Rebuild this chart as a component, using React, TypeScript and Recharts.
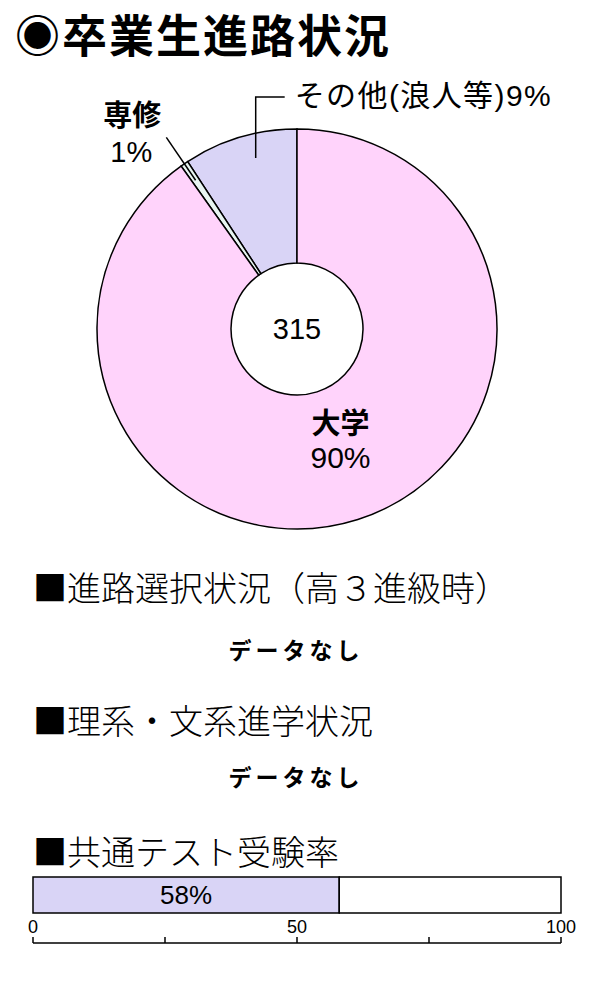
import { PieChart, Pie, Cell, BarChart, Bar, XAxis, YAxis, LabelList } from 'recharts';

// 卒業生進路状況
const pathNames = ['その他(浪人等)', '専修', '大学'];
const pathCounts = [29, 2, 284];
const pathPercentLabels = ['9%', '1%', '90%'];
const totalGraduates = 315;

// 共通テスト受験率
const examNames = ['共通テスト'];
const examRates = [58];
const examTicks = [0, 25, 50, 75, 100];

const noDataText = 'データなし';

const pieColors = ['#D9D4F6', '#E8F5F1', '#FFD3FB'];
const barColor = '#D9D4F6';
const JP = "'Noto Sans CJK JP', sans-serif";
const MIXED = "'Liberation Sans', 'Noto Sans CJK JP', sans-serif";

const pieData = pathNames.map((name, i) => ({ name, value: pathCounts[i], pct: pathPercentLabels[i] }));
const examData = examNames.map((name, i) => ({ name, rate: examRates[i], rest: 100 - examRates[i] }));

const RAD = Math.PI / 180;

function renderPieLabel(props: any) {
  const { cx, cy, midAngle, innerRadius, outerRadius, index } = props;
  const at = (r: number, a: number) => ({
    x: cx + r * Math.cos(-a * RAD),
    y: cy + r * Math.sin(-a * RAD),
  });
  const item = pieData[index];

  if (index === 0) {
    const p = at(outerRadius - 24, midAngle - 3);
    const topY = cy - outerRadius - 32;
    return (
      <g key="l0">
        <polyline
          points={`${p.x},${p.y} ${p.x},${topY} ${p.x + 29},${topY}`}
          fill="none"
          stroke="#000"
          strokeWidth={1.5}
        />
        <text x={p.x + 39} y={topY + 9} fontSize={30} fontFamily={MIXED} fill="#000" letterSpacing={1.4}>
          {item.name}
          {item.pct}
        </text>
        {/* total in the hole */}
        <text x={cx} y={cy + 10} textAnchor="middle" fontSize={29} fontFamily={MIXED} fill="#000">
          {totalGraduates}
        </text>
      </g>
    );
  }
  if (index === 1) {
    const a = at(outerRadius - 20, midAngle);
    const b = at(outerRadius + 32, midAngle);
    return (
      <g key="l1">
        <line x1={a.x} y1={a.y} x2={b.x} y2={b.y} stroke="#000" strokeWidth={1.5} />
        <text x={b.x - 34} y={b.y - 11} textAnchor="middle" fontSize={29} fontWeight="bold" fontFamily={JP} fill="#000">
          {item.name}
        </text>
        <text x={b.x - 35} y={b.y + 25} textAnchor="middle" fontSize={29} fontFamily={MIXED} fill="#000">
          {item.pct}
        </text>
      </g>
    );
  }
  const c = at((innerRadius + outerRadius) / 2 - 13, midAngle);
  return (
    <g key="l2">
      <text x={c.x + 7} y={c.y - 9} textAnchor="middle" fontSize={29} fontWeight="bold" fontFamily={JP} fill="#000">
        {item.name}
      </text>
      <text x={c.x + 7} y={c.y + 25} textAnchor="middle" fontSize={30} fontFamily={MIXED} fill="#000">
        {item.pct}
      </text>
    </g>
  );
}

export default function App() {
  return (
    <div style={{ position: 'absolute', left: 0, top: 0, width: 600, height: 1000, background: '#fff' }}>
      <div
        style={{
          position: 'absolute',
          left: 15,
          top: 11,
          fontFamily: JP,
          fontSize: 45,
          lineHeight: '45px',
          letterSpacing: 2,
          fontWeight: 'bold',
          whiteSpace: 'nowrap',
          color: '#000',
        }}
      >
        ◉卒業生進路状況
      </div>

      <div style={{ position: 'absolute', left: 0, top: 62 }}>
        <PieChart width={600} height={498} margin={{ top: 0, right: 0, bottom: 0, left: 0 }}>
          <Pie
            data={pieData}
            dataKey="value"
            nameKey="name"
            cx={297}
            cy={267}
            innerRadius={66}
            outerRadius={200}
            startAngle={90}
            endAngle={450}
            stroke="#000"
            strokeWidth={1.5}
            label={renderPieLabel}
            labelLine={false}
            isAnimationActive={false}
          >
            {pieData.map((d, i) => (
              <Cell key={d.name} fill={pieColors[i]} />
            ))}
          </Pie>
        </PieChart>
      </div>

      <div style={{ position: 'absolute', left: 0, top: 870 }}>
        <BarChart
          width={600}
          height={82}
          data={examData}
          layout="vertical"
          barCategoryGap={0}
          margin={{ top: 7, right: 39, bottom: 9, left: 33 }}
        >
          <XAxis
            type="number"
            domain={[0, 100]}
            ticks={examTicks}
            interval={0}
            orientation="bottom"
            mirror
            height={30}
            tickSize={6}
            tickMargin={4}
            axisLine={{ stroke: '#000', strokeWidth: 1.5 }}
            tickLine={{ stroke: '#000', strokeWidth: 1.5 }}
            tick={{ fill: '#000', fontSize: 18, fontFamily: "'Liberation Sans Narrow', 'Liberation Sans', sans-serif" }}
            tickFormatter={(v: number) => (v % 50 === 0 ? String(v) : '')}
          />
          <YAxis type="category" dataKey="name" hide padding={{ top: 0, bottom: 30 }} />
          <Bar dataKey="rate" stackId="a" fill={barColor} stroke="#000" strokeWidth={1.5} isAnimationActive={false}>
            <LabelList
              dataKey="rate"
              position="center"
              formatter={(v: any) => `${v}%`}
              fill="#000"
              fontSize={26}
              fontFamily={MIXED}
            />
          </Bar>
          <Bar dataKey="rest" stackId="a" fill="#fff" stroke="#000" strokeWidth={1.5} isAnimationActive={false} />
        </BarChart>
      </div>

      <svg width={600} height={1000} style={{ position: 'absolute', left: 0, top: 0, pointerEvents: 'none' }}>
        <text x={33} y={601} fontSize={34} fontWeight={300} fontFamily={JP} fill="#000">
          ■進路選択状況（高３進級時）
        </text>
        <text x={296} y={659} textAnchor="middle" fontSize={23} fontWeight="bold" fontFamily={JP} letterSpacing={4} fill="#000">
          {noDataText}
        </text>
        <text x={33} y={734} fontSize={34} fontWeight={300} fontFamily={JP} fill="#000">
          ■理系・文系進学状況
        </text>
        <text x={296} y={786} textAnchor="middle" fontSize={23} fontWeight="bold" fontFamily={JP} letterSpacing={4} fill="#000">
          {noDataText}
        </text>
        <text x={33} y={865} fontSize={34} fontWeight={300} fontFamily={JP} fill="#000">
          ■共通テスト受験率
        </text>
      </svg>
    </div>
  );
}
